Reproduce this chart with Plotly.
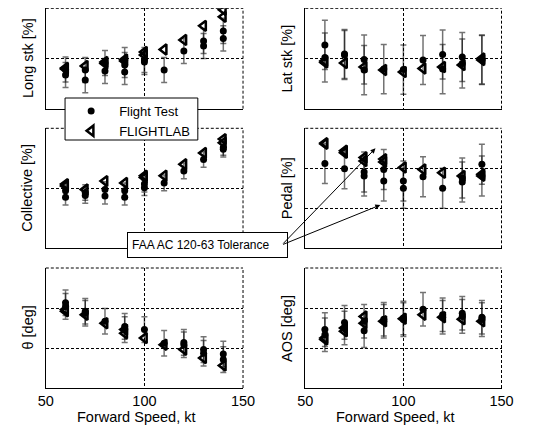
import plotly.graph_objects as go

# page body has an 8px margin; lay the figure out in window pixels
OX, OY = 8, 8
W, H = 526, 419

speeds = [60, 70, 80, 90, 100, 110, 120, 130, 140]

# Normalised panel units (distance between dashed grid lines = 1)
long_ft = [[-0.22, -0.33], [-0.23, -0.43], [-0.09, -0.25], [-0.03, -0.13, -0.27], [-0.03, -0.07],
           [-0.23], [0.15], [0.35, 0.25], [0.55, 0.40]]
long_fl = [[-0.21, -0.19], [-0.15], [-0.07, -0.10], [-0.02, -0.05], [0.13, 0.07],
           [0.18], [0.37], [0.65], [0.97, 0.83]]

lat_ft = [[0.27, 0.02], [0.09, 0.07], [-0.02, -0.23], [-0.21], [-0.22],
          [-0.03], [0.08, -0.21], [0.03, -0.10], [-0.02, -0.03]]
lat_fl = [[-0.08, -0.05], [-0.09], [-0.17], [-0.23], [-0.27],
          [-0.20], [-0.17], [-0.13], [-0.03, 0.0]]

coll_ft = [[-0.04, -0.15], [-0.07, -0.12], [-0.02, -0.13], [-0.04, -0.15], [0.07, 0.01],
           [0.09], [0.29], [0.48], [0.68, 0.65]]
coll_fl = [[0.07, 0.04], [-0.02], [0.12], [0.09], [0.21, 0.18],
           [0.21], [0.40], [0.59], [0.82, 0.76]]

ped_ft = [[0.12], [-0.01], [-0.09, -0.19], [-0.03, -0.32], [-0.32, -0.50],
          [-0.21], [-0.50], [-0.24, -0.34], [0.10, -0.19]]
ped_fl = [[0.63, 0.61], [0.44, 0.39], [0.27, 0.18], [0.23, 0.16], [0.02],
          [-0.03], [-0.11], [-0.19], [-0.15, -0.19]]

theta_ft = [[0.13, 0.04], [-0.08, -0.13], [-0.33], [-0.46, -0.54], [-0.54],
            [-0.88], [-0.86, -0.92], [-1.04, -1.13], [-1.15, -1.29]]
theta_fl = [[-0.08, -0.04], [-0.17], [-0.38], [-0.54, -0.63], [-0.75],
            [-0.92], [-1.04], [-1.25], [-1.44]]

aos_ft = [[-0.54, -0.67], [-0.36, -0.50], [-0.33, -0.57], [-0.28, -0.33], [-0.25, -0.29],
          [-0.03], [-0.17, -0.23], [-0.13, -0.21], [-0.23, -0.29]]
aos_fl = [[-0.75, -0.79], [-0.50, -0.58], [-0.21, -0.38], [-0.33], [-0.27],
          [-0.17], [-0.23], [-0.28], [-0.33]]

# FAA tolerance half-widths (same units)
tolerances = [0.25, 0.49, 0.13, 0.50, 0.32, 0.42]

titles = ["Long stk [%]", "Lat stk [%]", "Collective [%]", "Pedal [%]", "\u03b8 [deg]", "AOS [deg]"]
ft_sets = [long_ft, lat_ft, coll_ft, ped_ft, theta_ft, aos_ft]
fl_sets = [long_fl, lat_fl, coll_fl, ped_fl, theta_fl, aos_fl]
y_ranges = [[-1, 1], [-1, 1], [-1, 1], [-2, 1], [-2, 1], [-2, 1]]

x_ticks = [50, 100, 150]
x_title = "Forward Speed, kt"


def flat(sets):
    xs, ys = [], []
    for s, vals in zip(speeds, sets):
        for v in vals:
            xs.append(s)
            ys.append(v)
    return xs, ys


def px_x(px):
    return (px - OX) / W


def px_y(py):
    return 1 - (py - OY) / H


# layout geometry in window pixels
col_px = [(39, 244), (308.7, 512.7)]
row_px = [(8.3, 108.7), (128.3, 248.3), (268, 388)]

FONT = "Liberation Sans, Arial, Helvetica, sans-serif"
DASH = "3px,2px"
fig = go.Figure()
layout = dict(
    width=W, height=H, autosize=False,
    margin=dict(l=0, r=0, t=0, b=0),
    paper_bgcolor="white", plot_bgcolor="white",
    font=dict(family=FONT, color="black", size=13),
    showlegend=True,
)
annotations = []
shapes = []

for i in range(6):
    r, c = divmod(i, 2)
    ax = "" if i == 0 else str(i + 1)
    xref, yref = "x" + ax, "y" + ax
    xs, ys = flat(ft_sets[i])
    fig.add_trace(go.Scatter(
        x=xs, y=ys, mode="markers", name="Flight Test",
        xaxis=xref, yaxis=yref, showlegend=(i == 0),
        marker=dict(symbol="circle", size=7, color="black"),
        error_y=dict(type="constant", value=tolerances[i], color="rgba(0,0,0,0.55)",
                     thickness=1.5, width=3),
    ))
    xs2, ys2 = flat(fl_sets[i])
    fig.add_trace(go.Scatter(
        x=xs2, y=ys2, mode="markers", name="FLIGHTLAB",
        xaxis=xref, yaxis=yref, showlegend=(i == 0),
        marker=dict(symbol="triangle-left-open", size=9, color="black",
                    line=dict(width=2.5, color="black")),
    ))
    x0, x1 = col_px[c]
    y0, y1 = row_px[r]
    lo, hi = y_ranges[i]
    layout["xaxis" + ax] = dict(
        domain=[px_x(x0), px_x(x1)], anchor=yref, range=[50, 150],
        tickvals=x_ticks, showticklabels=(r == 2), ticks="",
        tickfont=dict(size=14.5, family=FONT, color="black"),
        showline=True, linecolor="black", linewidth=1,
        showgrid=True, gridcolor="black", gridwidth=1, griddash=DASH,
        zeroline=False, fixedrange=True,
    )
    layout["yaxis" + ax] = dict(
        domain=[px_y(y1), px_y(y0)], anchor=xref, range=[lo, hi],
        tickvals=list(range(lo, hi + 1)), showticklabels=False, ticks="",
        showline=True, linecolor="black", linewidth=1,
        showgrid=True, gridcolor="black", gridwidth=1, griddash=DASH,
        zeroline=False, fixedrange=True,
    )
    # dashed top and right frame edges
    shapes.append(dict(type="line", xref=xref + " domain", yref=yref + " domain",
                       x0=0, x1=1, y0=1, y1=1, layer="below",
                       line=dict(color="black", width=1, dash=DASH)))
    shapes.append(dict(type="line", xref=xref + " domain", yref=yref + " domain",
                       x0=1, x1=1, y0=0, y1=1, layer="below",
                       line=dict(color="black", width=1, dash=DASH)))
    annotations.append(dict(
        text=titles[i], xref="paper", yref="paper",
        x=px_x(x0 - 19), y=px_y((y0 + y1) / 2), textangle=-90,
        showarrow=False, xanchor="center", yanchor="middle",
        font=dict(size=14.5, family=FONT, color="black"),
    ))
    if r == 2:
        annotations.append(dict(
            text=x_title, xref="paper", yref="paper",
            x=px_x((x0 + x1) / 2 - 8.5), y=px_y(427),
            showarrow=False, xanchor="center", yanchor="bottom",
            font=dict(size=14.5, family=FONT, color="black"),
        ))

# legend box
shapes.append(dict(type="rect", xref="paper", yref="paper", layer="above",
                   x0=px_x(59), x1=px_x(197), y0=px_y(140), y1=px_y(98),
                   fillcolor="white", line=dict(color="black", width=1)))
layout["legend"] = dict(
    x=px_x(57), y=px_y(96), xanchor="left", yanchor="top",
    bgcolor="rgba(0,0,0,0)", borderwidth=0, itemwidth=46,
    font=dict(size=13, family=FONT, color="black"),
)

# tolerance label and arrows
annotations.append(dict(
    text="FAA AC 120-63 Tolerance", xref="paper", yref="paper",
    x=px_x(207.3), y=px_y(244.8), xanchor="center", yanchor="middle",
    showarrow=False, bgcolor="white", bordercolor="black", borderwidth=1,
    borderpad=4, width=151, height=16, align="left",
    font=dict(size=12, family=FONT, color="black"),
))
tail = (288, 245)
for tip in [(381.7, 148.3), (386.7, 205)]:
    annotations.append(dict(
        text="", xref="paper", yref="paper", x=px_x(tip[0]), y=px_y(tip[1]),
        ax=tail[0] - tip[0], ay=tail[1] - tip[1], axref="pixel", ayref="pixel",
        showarrow=True, arrowhead=2, arrowsize=1, arrowwidth=1, arrowcolor="black",
        standoff=0, startstandoff=0,
    ))

layout["annotations"] = annotations
layout["shapes"] = shapes
fig.update_layout(**layout)
fig.write_html("out.html")
